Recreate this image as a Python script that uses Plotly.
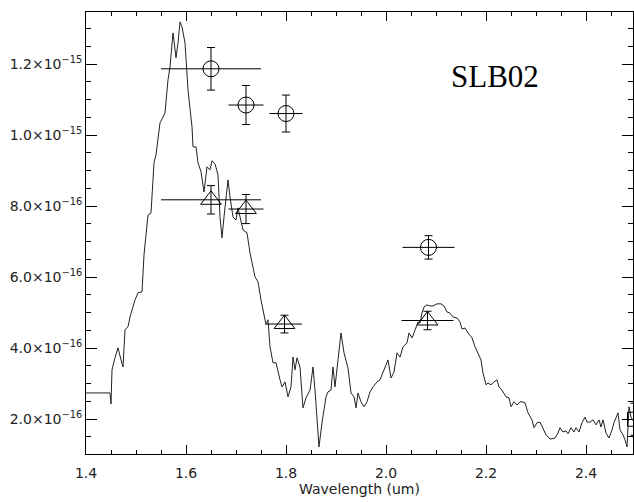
import numpy as np
import plotly.graph_objects as go

# Spectrum: wavelength (um) and flux (units of 1e-16)
wave = [1.400, 1.448, 1.450, 1.452, 1.458, 1.464, 1.470, 1.474, 1.478, 1.484, 1.488, 1.494, 1.498,
        1.504, 1.512, 1.516, 1.520, 1.524, 1.530, 1.536, 1.540, 1.548, 1.554, 1.558, 1.564, 1.568,
        1.574, 1.576, 1.580, 1.584, 1.588, 1.592, 1.598, 1.604, 1.612, 1.614, 1.620, 1.624, 1.630,
        1.636, 1.642, 1.648, 1.652, 1.658, 1.664, 1.668, 1.672, 1.676, 1.684, 1.688, 1.694, 1.700,
        1.704, 1.708, 1.714, 1.722, 1.728, 1.738, 1.744, 1.750, 1.756, 1.760, 1.764, 1.768, 1.774,
        1.780, 1.788, 1.792, 1.798, 1.804, 1.810, 1.814, 1.818, 1.822, 1.828, 1.834, 1.840, 1.848,
        1.854, 1.858, 1.866, 1.872, 1.880, 1.884, 1.890, 1.894, 1.898, 1.904, 1.910, 1.916, 1.924,
        1.930, 1.936, 1.940, 1.944, 1.950, 1.956, 1.962, 1.968, 1.974, 1.982, 1.988, 1.996, 2.004,
        2.010, 2.016, 2.022, 2.028, 2.034, 2.042, 2.046, 2.052, 2.056, 2.060, 2.064, 2.068, 2.072,
        2.076, 2.082, 2.088, 2.094, 2.102, 2.110, 2.116, 2.122, 2.128, 2.134, 2.142, 2.148, 2.152,
        2.158, 2.164, 2.172, 2.178, 2.184, 2.190, 2.194, 2.200, 2.204, 2.210, 2.216, 2.222, 2.226,
        2.232, 2.240, 2.246, 2.250, 2.256, 2.262, 2.268, 2.272, 2.278, 2.284, 2.292, 2.296, 2.302,
        2.308, 2.314, 2.320, 2.328, 2.338, 2.344, 2.348, 2.354, 2.360, 2.364, 2.370, 2.376, 2.380,
        2.386, 2.392, 2.398, 2.402, 2.408, 2.414, 2.420, 2.426, 2.430, 2.434, 2.440, 2.446, 2.452,
        2.456, 2.464, 2.468, 2.474, 2.478, 2.482, 2.486, 2.490, 2.496]
flux16 = [2.74, 2.74, 2.43, 3.39, 3.73, 4.01, 3.67, 3.47, 4.52, 4.60, 4.88, 5.22, 5.36,
          5.56, 5.59, 6.63, 7.19, 7.75, 7.81, 9.22, 9.45, 10.35, 10.51, 10.63, 11.56, 11.92,
          12.88, 12.68, 12.18, 12.60, 13.19, 13.05, 12.60, 11.28, 10.23, 9.67, 9.67, 9.22, 8.97,
          8.40, 9.11, 9.02, 9.28, 9.19, 8.88, 7.70, 7.11, 7.70, 8.74, 8.26, 7.70, 7.61,
          7.95, 7.70, 7.33, 7.25, 6.68, 6.01, 5.87, 5.36, 4.99, 4.66, 4.80, 4.04, 3.59,
          3.59, 3.11, 2.91, 3.05, 2.63, 2.91, 3.75, 3.39, 3.73, 3.47, 2.32, 2.60, 2.82,
          3.47, 2.82, 1.22, 1.90, 2.63, 2.77, 2.82, 3.47, 2.91, 3.59, 4.43, 3.87, 3.44,
          2.74, 2.63, 2.32, 2.74, 2.49, 2.35, 2.49, 2.77, 2.91, 3.05, 3.11, 3.39, 3.67,
          3.16, 3.33, 3.87, 3.75, 4.04, 4.15, 4.43, 4.29, 4.43, 4.60, 4.74, 4.71, 4.99,
          5.16, 5.22, 5.19, 5.19, 5.25, 5.25, 5.19, 5.02, 4.99, 4.88, 4.85, 4.74, 4.54,
          4.57, 4.43, 4.29, 4.04, 3.87, 3.67, 3.30, 2.97, 3.02, 2.97, 3.05, 3.11, 2.91,
          2.82, 2.63, 2.60, 2.35, 2.49, 2.40, 2.49, 2.49, 2.46, 2.18, 1.98, 1.76, 1.90,
          1.92, 1.76, 1.56, 1.44, 1.47, 1.61, 1.76, 1.64, 1.67, 1.59, 1.76, 1.64, 1.76,
          1.64, 1.90, 2.06, 1.92, 1.92, 1.98, 1.84, 1.98, 1.78, 1.98, 1.61, 1.47, 1.70,
          1.90, 2.18, 1.70, 1.56, 1.42, 1.22, 2.35, 2.06, 1.92]

# Photometry (circles) and scaled points (triangles), flux in 1e-16
circ_wave = [1.65, 1.72, 1.80, 2.085]
circ_flux = [11.87, 10.85, 10.61, 6.84]
circ_ferr = [0.60, 0.55, 0.52, 0.33]
circ_werr = [0.10, 0.035, 0.033, 0.052]

tri_wave = [1.65, 1.72, 1.797, 2.083]
tri_flux = [8.18, 7.92, 4.68, 4.78]
tri_ferr = [0.40, 0.41, 0.25, 0.26]
tri_werr = [0.10, 0.035, 0.035, 0.052]

# Partially visible point at the right edge
edge_wave = [2.497]
edge_flux = [2.00]
edge_ferr = [0.45]

ytick_vals = [2, 4, 6, 8, 10, 12]
ytick_text = ["2.0×10<sup>−16</sup>", "4.0×10<sup>−16</sup>", "6.0×10<sup>−16</sup>",
              "8.0×10<sup>−16</sup>", "1.0×10<sup>−15</sup>", "1.2×10<sup>−15</sup>"]

S = 1e-16
fig = go.Figure()
fig.add_trace(go.Scatter(x=wave, y=np.array(flux16) * S, mode="lines",
                         line=dict(color="#222", width=1), showlegend=False))
fig.add_trace(go.Scatter(
    x=circ_wave, y=np.array(circ_flux) * S, mode="markers",
    marker=dict(symbol="circle-open", size=16, color="black", line=dict(width=1, color="black")),
    error_y=dict(type="data", array=np.array(circ_ferr) * S, color="black", thickness=1, width=4),
    error_x=dict(type="data", array=circ_werr, color="black", thickness=1, width=0),
    showlegend=False))
fig.add_trace(go.Scatter(
    x=tri_wave, y=np.array(tri_flux) * S, mode="markers",
    marker=dict(symbol="triangle-up-open", size=18, color="black", line=dict(width=1, color="black")),
    error_y=dict(type="data", array=np.array(tri_ferr) * S, color="black", thickness=1, width=4),
    error_x=dict(type="data", array=tri_werr, color="black", thickness=1, width=0),
    showlegend=False))
fig.add_trace(go.Scatter(
    x=edge_wave, y=np.array(edge_flux) * S, mode="markers",
    marker=dict(symbol="square-open", size=14, color="black", line=dict(width=1, color="black")),
    error_y=dict(type="data", array=np.array(edge_ferr) * S, color="black", thickness=1, width=4),
    showlegend=False))

fig.add_annotation(x=2.218, y=11.64 * S, text="SLB02", showarrow=False,
                   font=dict(family="Liberation Serif", size=31, color="black"))

axis_common = dict(showline=True, linecolor="black", linewidth=1, mirror="allticks",
                   ticks="inside", tickcolor="black", showgrid=False, zeroline=False,
                   tickfont=dict(family="DejaVu Sans", size=14, color="#222"))
fig.update_xaxes(range=[1.4, 2.494], tickvals=[1.4, 1.6, 1.8, 2.0, 2.2, 2.4],
                 ticktext=["1.4", "1.6", "1.8", "2.0", "2.2", "2.4"], ticklen=9,
                 ticklabelstandoff=6,
                 minor=dict(dtick=0.05, tick0=1.4, ticks="inside", ticklen=4, tickcolor="black"),
                 title=dict(text="Wavelength (um)", standoff=2,
                            font=dict(family="DejaVu Sans", size=14, color="#222")),
                 **axis_common)
fig.update_yaxes(range=[1.02e-16, 13.47e-16], tickvals=[v * S for v in ytick_vals],
                 ticktext=ytick_text, ticklen=11,
                 minor=dict(dtick=0.5e-16, tick0=0, ticks="inside", ticklen=5, tickcolor="black"),
                 **axis_common)
fig.update_layout(width=634, height=502, margin=dict(l=86, r=1, t=12, b=48),
                  plot_bgcolor="white", paper_bgcolor="white")
fig.write_html("out.html")
